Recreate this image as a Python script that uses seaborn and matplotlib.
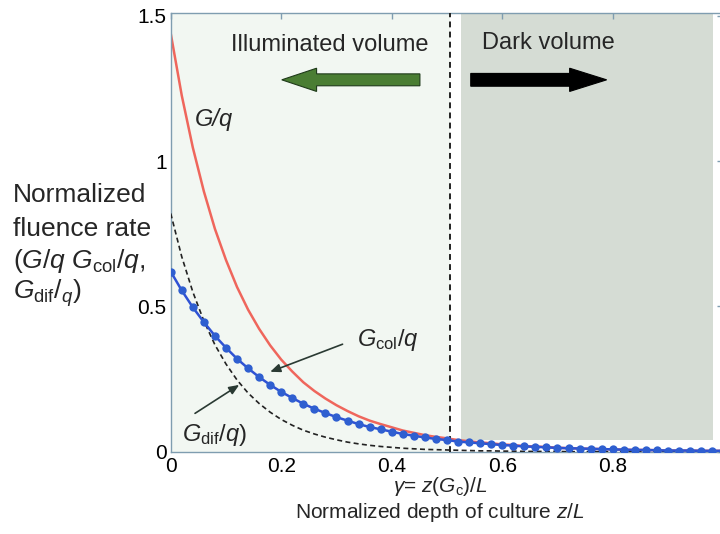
import matplotlib
matplotlib.use("Agg")
import matplotlib.pyplot as plt
from matplotlib.patches import FancyArrow
import seaborn as sns
import pandas as pd

# ---- data ----
depth = [0.00, 0.02, 0.04, 0.06, 0.08, 0.10, 0.12, 0.14, 0.16, 0.18,
         0.20, 0.22, 0.24, 0.26, 0.28, 0.30, 0.32, 0.34, 0.36, 0.38,
         0.40, 0.42, 0.44, 0.46, 0.48, 0.50, 0.52, 0.54, 0.56, 0.58,
         0.60, 0.62, 0.64, 0.66, 0.68, 0.70, 0.72, 0.74, 0.76, 0.78,
         0.80, 0.82, 0.84, 0.86, 0.88, 0.90, 0.92, 0.94, 0.96, 0.98, 1.00]
g_total = [1.440, 1.226, 1.047, 0.896, 0.767, 0.660, 0.567, 0.489, 0.423, 0.366,
           0.317, 0.276, 0.239, 0.209, 0.183, 0.160, 0.140, 0.122, 0.107, 0.095,
           0.084, 0.073, 0.065, 0.057, 0.051, 0.046, 0.040, 0.036, 0.032, 0.029,
           0.025, 0.023, 0.019, 0.018, 0.016, 0.014, 0.012, 0.011, 0.010, 0.009,
           0.008, 0.007, 0.006, 0.006, 0.005, 0.004, 0.004, 0.004, 0.003, 0.003, 0.003]
g_col = [0.620, 0.555, 0.497, 0.446, 0.399, 0.358, 0.320, 0.287, 0.257, 0.230,
         0.206, 0.185, 0.165, 0.148, 0.133, 0.119, 0.107, 0.095, 0.085, 0.077,
         0.069, 0.061, 0.055, 0.049, 0.044, 0.040, 0.035, 0.032, 0.029, 0.026,
         0.023, 0.021, 0.018, 0.017, 0.015, 0.013, 0.012, 0.011, 0.010, 0.009,
         0.008, 0.007, 0.006, 0.006, 0.005, 0.004, 0.004, 0.004, 0.003, 0.003, 0.003]
g_dif = [0.820, 0.671, 0.550, 0.450, 0.368, 0.302, 0.247, 0.202, 0.166, 0.136,
         0.111, 0.091, 0.074, 0.061, 0.050, 0.041, 0.033, 0.027, 0.022, 0.018,
         0.015, 0.012, 0.010, 0.008, 0.007, 0.006, 0.005, 0.004, 0.003, 0.003,
         0.002, 0.002, 0.001, 0.001, 0.001, 0.001, 0.000, 0.000, 0.000, 0.000,
         0.000, 0.000, 0.000, 0.000, 0.000, 0.000, 0.000, 0.000, 0.000, 0.000, 0.000]
gamma = 0.505
x_ticks = [0, 0.2, 0.4, 0.6, 0.8, 1.0]
x_tick_labels = ["0", "0.2", "0.4", "0.6", "0.8", ""]
y_ticks = [0, 0.5, 1, 1.5]
y_tick_labels = ["0", "0.5", "1", "1.5"]
ylabel_lines = ["Normalized", "fluence rate",
                "(" + r"$G/q$ $G_{\rm col}/q$,", r"$G_{\rm dif}/_{q}$)"]

df = pd.DataFrame({"z": depth, "G": g_total, "Gcol": g_col, "Gdif": g_dif})

# ---- style ----
sns.set_style("white")
plt.rcParams["font.family"] = ["Liberation Sans", "DejaVu Sans"]
plt.rcParams["mathtext.fontset"] = "custom"
plt.rcParams["mathtext.rm"] = "Liberation Sans"
plt.rcParams["mathtext.it"] = "Liberation Sans:italic"
plt.rcParams["mathtext.bf"] = "Liberation Sans:bold"

spine_c = "#7f9db0"
fig = plt.figure(figsize=(7.2, 5.34), dpi=100)
ax = fig.add_axes([0.2371, 0.1541, 0.7674, 0.8221])
ax.set_xlim(0, 1.0)
ax.set_ylim(0, 1.511)

# region shading
ax.axvspan(0, gamma, color="#f2f7f2", zorder=0, lw=0)
ax.fill_between([0.525, 0.981], 0.04, 1.511, color="#d5dcd4", zorder=0.5, lw=0)
ax.axvline(gamma, color="#222222", lw=1.4, dashes=(3, 2.2), zorder=4)

# curves
sns.lineplot(data=df, x="z", y="G", ax=ax, color="#ef665c", lw=1.8, zorder=2)
sns.lineplot(data=df, x="z", y="Gdif", ax=ax, color="#222222", lw=1.2,
             linestyle=(0, (3, 2)), zorder=3)
sns.lineplot(data=df, x="z", y="Gcol", ax=ax, color="#2f52d4", lw=1.8,
             marker="o", markersize=6, markeredgewidth=0,
             markerfacecolor="#2f5fd0", zorder=5, clip_on=True)

# big arrows
ax.add_patch(FancyArrow(0.451, 1.280, -0.250, 0, width=0.041, head_width=0.080,
                        head_length=0.063, length_includes_head=True,
                        fc="#4a7d33", ec="#1f3a1a", lw=0.8, zorder=6))
ax.add_patch(FancyArrow(0.543, 1.280, 0.246, 0, width=0.044, head_width=0.080,
                        head_length=0.067, length_includes_head=True,
                        fc="black", ec="black", lw=0.8, zorder=6))

ax.text(0.110, 1.400, "Illuminated volume", fontsize=17, va="center", ha="left")
ax.text(0.563, 1.407, "Dark volume", fontsize=17, va="center", ha="left")

# curve labels
ax.text(0.044, 1.142, "G/q", fontsize=17, style="italic", va="center", ha="left")
ax.text(0.337, 0.385, r"$G_{\rm col}/q$", fontsize=17, va="center", ha="left")
ax.text(0.020, 0.057, r"$G_{\rm dif}/q$)", fontsize=17, va="center", ha="left")
arrow_kw = dict(arrowstyle="-|>,head_length=0.6,head_width=0.25",
                color="#2a3a33", lw=1.2, shrinkA=0, shrinkB=0)
ax.annotate("", xy=(0.180, 0.275), xytext=(0.311, 0.370), arrowprops=arrow_kw)
ax.annotate("", xy=(0.124, 0.230), xytext=(0.044, 0.132), arrowprops=arrow_kw)

# axes styling
ax.set_xticks(x_ticks)
ax.set_xticklabels(x_tick_labels)
ax.set_yticks(y_ticks)
ax.set_yticklabels(y_tick_labels)
ax.tick_params(direction="in", length=4, width=1, color=spine_c, labelsize=15,
               top=True, right=True, labelcolor="black")
ax.tick_params(axis="x", pad=4)
ax.tick_params(axis="y", pad=3)
for s in ax.spines.values():
    s.set_color(spine_c)
    s.set_linewidth(1.0)
ax.set_xlabel("")
ax.set_ylabel("")

for line, base_px in zip(ylabel_lines, [202, 236, 268, 299]):
    fig.text(13 / 720, 1 - base_px / 534, line, fontsize=19,
             ha="left", va="baseline")
fig.text(440 / 720, 1 - 487 / 534, r"$\gamma$= $z$($G_{\rm c}$)/$L$",
         fontsize=15, ha="center", va="center")
fig.text(440 / 720, 1 - 513 / 534, "Normalized depth of culture " + r"$z/L$",
         fontsize=15, ha="center", va="center")

fig.savefig("out.png", dpi=100)
